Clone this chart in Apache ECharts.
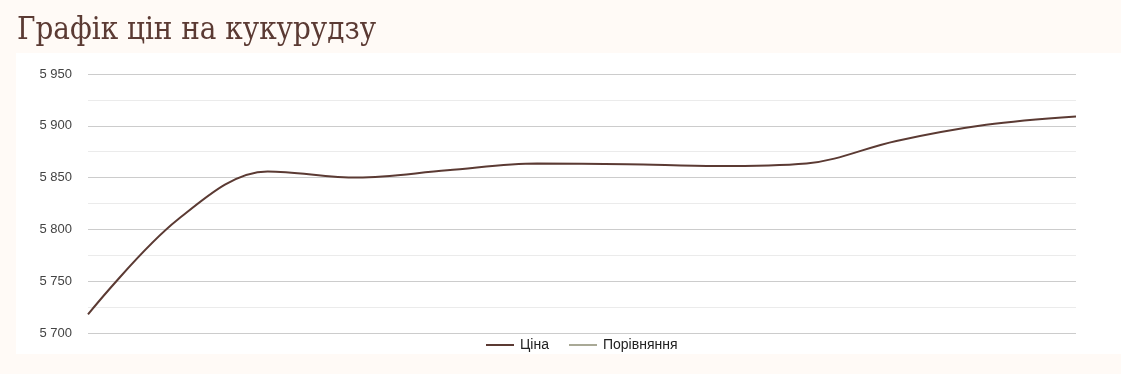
<!DOCTYPE html>
<html><head><meta charset="utf-8">
<script src="https://cdn.jsdelivr.net/npm/echarts@6/dist/echarts.min.js"></script>
<style>html,body{margin:0;padding:0;background:#fffaf6;}#c{width:1121px;height:374px;}</style>
</head><body><div id="c"></div>
<script>
const categories = ['1','2','3','4','5','6','7','8','9','10','11','12'];
const priceValues = [5718, 5809.5, 5856, 5850, 5857, 5863.5, 5863, 5861.2, 5863.7, 5885.4, 5901, 5909];
const comparisonValues = [];
const yTicks = [5700, 5750, 5800, 5850, 5900, 5950];

const chart = echarts.init(document.getElementById('c'), null, {renderer: 'canvas'});
chart.setOption({
  backgroundColor: '#fffaf6',
  animation: false,
  title: {
    text: 'Графік цін на кукурудзу',
    left: 12, top: 10,
    textStyle: {fontFamily: 'DejaVu Serif Condensed, DejaVu Serif', fontWeight: 'normal', fontSize: 31, color: '#5b3a33'}
  },
  graphic: [{
    type: 'rect', z: -10, silent: true,
    shape: {x: 16, y: 53, width: 1105, height: 301},
    style: {fill: '#ffffff'}
  }],
  legend: {
    top: 333, left: 481,
    itemWidth: 28, itemHeight: 2, itemGap: 20,
    icon: 'rect',
    textStyle: {fontFamily: 'Liberation Sans', fontSize: 14, color: '#222', padding: [0, 0, 0, 1]},
    data: ['Ціна', 'Порівняння']
  },
  grid: {left: 88, right: 45, top: 74, bottom: 41},
  xAxis: {
    type: 'category', data: categories, boundaryGap: false,
    axisLine: {show: false}, axisTick: {show: false}, axisLabel: {show: false}, splitLine: {show: false}
  },
  yAxis: {
    type: 'value', min: yTicks[0], max: yTicks[yTicks.length - 1], interval: 50,
    axisLine: {show: false}, axisTick: {show: false},
    axisLabel: {
      margin: 16, fontFamily: 'Liberation Sans', fontSize: 13, color: '#444',
      formatter: v => String(v).replace(/\B(?=(\d{3})+(?!\d))/g, ' ')
    },
    splitLine: {lineStyle: {color: '#cccccc', width: 1}},
    minorTick: {show: false, splitNumber: 2},
    minorSplitLine: {show: true, lineStyle: {color: '#ebebeb', width: 1}}
  },
  series: [
    {name: 'Ціна', type: 'line', data: priceValues, smooth: 0.35, showSymbol: false,
     lineStyle: {color: '#5b3a33', width: 2}, itemStyle: {color: '#5b3a33'}},
    {name: 'Порівняння', type: 'line', data: comparisonValues, showSymbol: false,
     lineStyle: {color: '#a9a996', width: 2}, itemStyle: {color: '#a9a996'}}
  ]
});
</script></body></html>
